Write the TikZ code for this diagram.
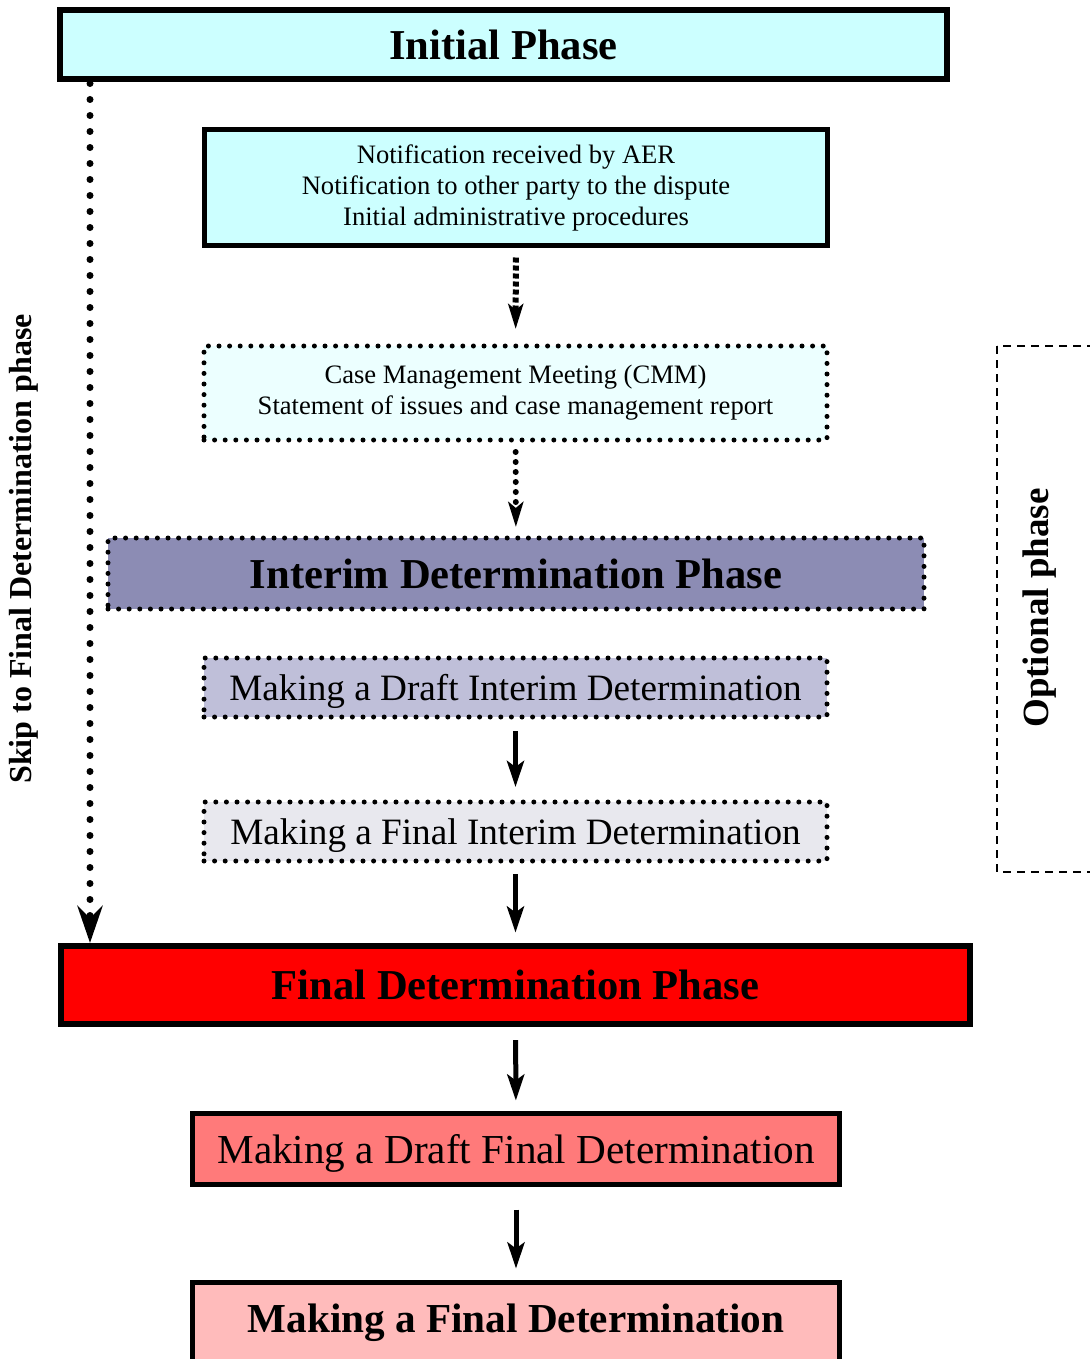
\documentclass[tikz,border=0pt]{standalone}
\usepackage{fontspec}
\setmainfont{Liberation Serif}
\usetikzlibrary{arrows.meta}

\definecolor{initcyan}{RGB}{204,255,255}
\definecolor{cmmcyan}{RGB}{236,255,255}
\definecolor{interimblue}{RGB}{140,140,180}
\definecolor{draftinterim}{RGB}{191,191,217}
\definecolor{finalinterim}{RGB}{232,232,238}
\definecolor{draftfinal}{RGB}{255,122,122}
\definecolor{finalpink}{RGB}{255,187,187}

\tikzset{
	box/.style={draw, outer sep=0pt, inner sep=0pt, align=center},
	solidbox/.style={box, line width=2.5pt},
	thickbox/.style={box, line width=3pt},
	dotbox/.style={box, line width=2.5pt, dash pattern=on 0pt off 5.3pt, line cap=round},
	phasefont/.style={font=\bfseries\fontsize{21.3}{25}\selectfont},
	smallfont/.style={font=\fontsize{13.3}{15.5}\selectfont},
	stepfont/.style={font=\fontsize{18.6}{22}\selectfont, text depth=0pt},
	arr/.style={line width=2.5pt, -{Stealth[length=13pt, width=8.5pt, inset=3pt]}},
	squaredots/.style={line width=3pt, dash pattern=on 2.5pt off 1.5pt, -{Stealth[length=12.5pt, width=7.5pt, inset=3pt]}},
	rounddots/.style={line width=3pt, line cap=round, dash pattern=on 0pt off 5pt, -{Stealth[length=12.5pt, width=7.5pt, inset=3pt]}},
	skipdots/.style={line width=3.5pt, line cap=round, dash pattern=on 0pt off 8pt, -{Stealth[length=18.5pt, width=12.5pt, inset=6pt]}}
}

\begin{document}
\begin{tikzpicture}[x=0.5pt, y=-0.5pt]

	\useasboundingbox (0, 0) rectangle (1090, 1359);
	\clip (0, 0) rectangle (1090, 1359);

		\node[thickbox, fill=initcyan, minimum width=443.5pt, minimum height=34.5pt, phasefont] (init) at (503.5, 44.5){Initial Phase};
		\node[solidbox, fill=initcyan, minimum width=311.5pt, minimum height=58pt, smallfont] (notif) at (516, 187.5){Notification received by AER\\Notification to other party to the dispute\\Initial administrative procedures};
		\node[dotbox, fill=cmmcyan, minimum width=311.5pt, minimum height=47pt, smallfont] (cmm) at (515.5, 393){Case Management Meeting (CMM)\\Statement of issues and case management report};

		\node[dotbox, fill=interimblue, minimum width=408pt, minimum height=35.5pt, phasefont] (interim) at (516, 573.5){Interim Determination Phase};
		\node[dotbox, fill=draftinterim, minimum width=311.5pt, minimum height=29.5pt, stepfont] (dinterim) at (515.5, 687.5){Making a Draft Interim Determination};
		\node[dotbox, fill=finalinterim, minimum width=311.5pt, minimum height=29.5pt, stepfont] (finterim) at (515.5, 831.5){Making a Final Interim Determination};

		\node[thickbox, fill=red, minimum width=454.5pt, minimum height=39pt, phasefont] (fphase) at (515.5, 985){Final Determination Phase};
		\node[solidbox, fill=draftfinal, minimum width=323.5pt, minimum height=35.5pt, text depth=0pt, font=\fontsize{20.6}{24}\selectfont] (dfinal) at (516, 1149){Making a Draft Final Determination};
		\node[solidbox, fill=finalpink, minimum width=323.5pt, anchor=north, text height=24.75pt, text depth=30pt, font=\bfseries\fontsize{20.6}{24}\selectfont] (mfinal) at (516, 1282.5){Making a Final Determination};

		\draw[squaredots, shorten <=6pt, shorten >=8.5pt] (notif) to (cmm);
		\draw[rounddots, shorten <=6pt, shorten >=5.5pt] (cmm) to (interim);
		\draw[arr, shorten <=7pt, shorten >=7.5pt] (dinterim) to (finterim);
		\draw[arr, shorten <=6.5pt, shorten >=6.75pt] (finterim) to (fphase);
		\draw[arr, shorten <=8pt, shorten >=6.5pt] (fphase) to (dfinal);
		\draw[arr, shorten <=12.5pt, shorten >=7pt] (dfinal) to (mfinal);

		\coordinate (skip) at (90, 79.5);
		\draw[skipdots, shorten <=2pt, shorten >=1.5pt] (skip) to (skip |- fphase.north);
		\node[rotate=90, font=\bfseries\fontsize{16}{19}\selectfont] (skiplabel) at (24, 549){Skip to Final Determination phase};

		\draw[line width=1pt, dash pattern=on 4pt off 3pt] (997, 346) rectangle (1150, 872);
		\node[rotate=90, font=\bfseries\fontsize{18.5}{22}\selectfont] (optlabel) at (1040, 608){Optional phase};

\end{tikzpicture}
\end{document}
